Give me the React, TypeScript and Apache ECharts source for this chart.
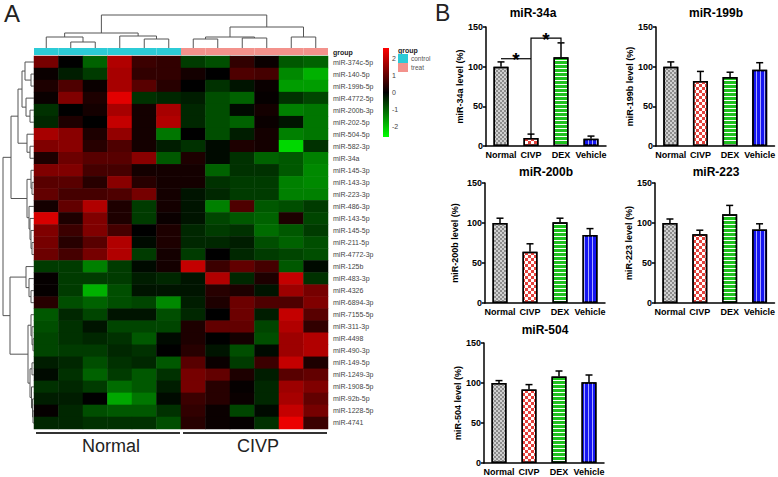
import React, { useEffect, useRef } from "react";
import * as echarts from "echarts";

// ---------------- DATA ----------------
const sampleNames = ["N1", "N2", "N3", "N4", "N5", "N6", "C1", "C2", "C3", "C4", "C5", "C6"];
const sampleGroups = ["control", "control", "control", "control", "control", "control", "treat", "treat", "treat", "treat", "treat", "treat"];
const groupNames = ["control", "treat"];
const groupLabels = ["Normal", "CIVP"];

const mirnaRows = [
  "miR-374c-5p", "miR-140-5p", "miR-199b-5p", "miR-4772-5p", "miR-200b-3p", "miR-202-5p",
  "miR-504-5p", "miR-582-3p", "miR-34a", "miR-145-3p", "miR-143-3p", "miR-223-3p",
  "miR-486-3p", "miR-143-5p", "miR-145-5p", "miR-211-5p", "miR-4772-3p", "miR-125b",
  "miR-483-3p", "miR-4326", "miR-6894-3p", "miR-7155-5p", "miR-311-3p", "miR-4498",
  "miR-490-3p", "miR-149-5p", "miR-1249-3p", "miR-1908-5p", "miR-92b-5p", "miR-1228-5p", "miR-4741",
];

const heatValues = [
  [1.2, 0, -1.0, 1.8, 0.6, 0.5, -0.6, -0.8, 0.5, 0.1, -0.9, -1.0],
  [0.1, -0.3, -0.6, 1.7, 0.5, 0.5, 0.2, 0.0, 0.8, 0.7, -1.4, -1.8],
  [0.3, 0.8, 0.1, 1.7, 0.9, 0.4, 0.0, -0.5, -0.2, 0.1, -1.6, -1.6],
  [0.1, 1.3, 0.3, 2.3, -0.5, -0.4, -0.3, -0.8, -1.0, 0.05, -0.5, -0.7],
  [-0.5, 0, 0.2, 1.7, 0.2, 1.7, -0.4, -0.8, -0.1, 0.2, -1.3, -1.2],
  [-0.4, 0.3, 0, 2.0, 0.2, 1.8, -0.4, -0.8, -1.0, 0.1, -0.2, -1.2],
  [1.7, 1.4, 0.3, 1.5, 0.2, -1.2, 0, -0.8, -0.3, 0.2, -1.3, -1.2],
  [1.3, 1.4, 0.4, 0.8, 0.2, -0.3, -0.5, -0.1, 0.3, 0.2, -2.2, -0.5],
  [0.3, 1.1, 0.9, 0.9, 1.4, -0.9, 0.3, -0.1, -0.5, -1.0, -0.9, -1.3],
  [1.3, 1.3, 0.7, 0.7, 0.2, 0.2, 0.2, -1.0, -0.5, -0.5, -0.9, -1.4],
  [0.9, 0.9, 0.4, 1.4, 0.4, 0.2, 0.2, -0.5, -0.6, -0.6, -1.3, -1.4],
  [1.0, 0.7, 0.7, 0.8, 1.2, 0.2, -0.2, -0.4, -0.6, -0.6, -1.3, -1.3],
  [0.2, 1.0, 1.8, 0.3, -0.6, 0.2, -0.2, -1.3, 0.8, -0.9, -0.8, -0.6],
  [2.2, 0.3, 1.3, 0.3, -0.6, 0.1, -0.2, -0.7, -0.9, -1.0, 0.3, -0.7],
  [1.3, 0.6, 1.3, 0.7, 0, 0.3, -0.4, -0.6, -0.5, -1.1, -0.9, -0.6],
  [1.2, 0.4, 0.9, 1.8, -0.1, 0.3, -0.4, -0.4, -0.3, -0.8, -1.0, -0.8],
  [1.1, 0.7, 1.2, 1.8, -0.6, 0.2, -0.6, 0, -0.4, -0.6, -0.7, -0.8],
  [-0.6, -0.6, -1.3, -0.6, -0.1, 0.2, 2.0, 0.6, 1.0, 0.7, -0.9, -0.1],
  [0.05, -0.6, -0.6, -0.6, -0.3, -0.4, -0.2, 1.8, -0.4, 0.3, 2.0, -0.5],
  [0.05, -0.6, -1.8, -0.8, -0.2, -0.2, -0.2, 0.4, 0.3, -0.2, 1.6, 1.2],
  [0.4, -0.8, -1.0, -0.8, -0.7, -1.4, -0.3, 0.3, 1.1, 0.8, 0.8, 1.3],
  [-0.9, -0.4, -0.7, -0.2, -0.2, -0.8, -0.4, 0, 1.1, -0.3, 2.0, 0.9],
  [-0.8, -0.5, -0.2, -0.7, -0.7, -0.7, 0.3, 1.0, 1.0, -0.7, 1.8, 0.5],
  [-0.7, -0.5, -0.4, -0.5, -0.9, -0.1, 0.3, 0, 0.2, -0.8, 1.6, 1.8],
  [-0.7, -0.6, -0.6, -0.4, -0.5, 0, 0.4, -0.2, -0.8, -0.1, 1.6, 1.8],
  [-0.3, -0.4, -0.8, -0.5, -0.4, -0.9, 0.9, 0.1, -0.6, 0.6, 2.0, 0.3],
  [-0.1, -0.5, -1.0, -0.6, -0.9, -0.5, 1.2, 1.0, 0.3, -0.3, 0.9, 1.0],
  [-0.5, -0.4, -0.6, -1.1, -0.9, -0.3, 1.2, 0.4, 0.05, -0.4, 1.6, 1.3],
  [-0.3, -0.3, 0, -1.7, -1.2, -0.1, 0.6, 0.4, 0.1, -0.4, 1.7, 1.0],
  [0.05, -0.4, -0.8, -0.9, -0.9, -0.5, 0.5, 0.1, -0.7, -0.1, 2.0, 1.2],
  [-0.4, -0.4, -0.5, -0.5, -0.5, -0.8, 0.4, 0.1, 0.05, -0.5, 2.4, 0.6],
];

const colorTicks = [2, 1, 0, -1, -2];
const colorRange = [-2.6, 2.6];

// dendrograms: [left, right, height]; leaves are indices
type Tree = number | [Tree, Tree, number];
const colTree: Tree = [
  [[0, [1, 2, 6], 11], [3, [4, 5, 9], 12], 15],
  [[[6, 7, 9], [8, 9, 10], 11], [10, 11, 11], 21],
  33,
];
const rowTree: Tree = [
  [
    [[[0, [1, 2, 3], 9], [3, [4, 5, 4], 8], 12], [6, [7, 8, 4], 7], 16],
    [[9, [10, 11, 2], 3], [12, [13, [14, [15, 16, 2], 3], 4], 5], 7],
    23,
  ],
  [
    [17, [18, [19, 20, 3], 5], 8],
    [[21, [22, [23, 24, 1], 2], 3], [[25, 26, 2], [27, [28, [29, 30, 1], 1.5], 2.5], 4], 6],
    24,
  ],
  31,
];

const barCategories = ["Normal", "CIVP", "DEX", "Vehicle"];
const mir34aMean = [100, 10, 112, 9];
const mir34aErr = [6, 5, 18, 3.5];
const mir199bMean = [100, 82, 87, 96];
const mir199bErr = [6, 12, 6, 9];
const mir200bMean = [100, 64, 101, 85];
const mir200bErr = [6, 10, 5, 8];
const mir223Mean = [100, 86, 111, 92];
const mir223Err = [5, 5, 11, 7];
const mir504Mean = [100, 92, 108, 101];
const mir504Err = [3, 6, 7, 9];
// [fromCat, toCat, topLevel, leftEndLevel, rightEndLevel]
const sigBrackets = [
  [0, 1, 110, 110, 110],
  [1, 2, 136, 14, 131],
];

// ---------------- STYLE / LAYOUT ----------------
const FONT = "Arial, 'Liberation Sans', Helvetica, sans-serif";
const HM = { left: 34, top: 56, width: 294, height: 373 };
const groupColor: Record<string, string> = { control: "#2ccbd6", treat: "#f3928c" };

const barItemStyles = [
  {
    color: "#d0d0d0",
    decal: { symbol: "rect", symbolSize: 1, color: "#8c8c8c", dashArrayX: [[2, 2], [0, 2, 2, 0]], dashArrayY: [2, 0] },
  },
  {
    color: "#ffffff",
    decal: { symbol: "rect", symbolSize: 1, color: "#e5423c", dashArrayX: [[3, 3], [0, 3, 3, 0]], dashArrayY: [3, 0] },
  },
  {
    color: "#1fc21f",
    decal: { symbol: "rect", symbolSize: 1, color: "#ffffff", dashArrayX: [1, 0], dashArrayY: [1, 3] },
  },
  {
    color: "#1616f0",
    decal: { symbol: "rect", symbolSize: 1, color: "#a8a8ff", dashArrayX: [1, 3], dashArrayY: [1, 0] },
  },
];

const panels = [
  { title: "miR-34a", mean: mir34aMean, err: mir34aErr, left: 486, top: 27, height: 119, tx: 533, ty: 13, gap: 19 },
  { title: "miR-199b", mean: mir199bMean, err: mir199bErr, left: 656, top: 27, height: 119, tx: 716, ty: 13, gap: 21 },
  { title: "miR-200b", mean: mir200bMean, err: mir200bErr, left: 485, top: 183, height: 120, tx: 546, ty: 172, gap: 26 },
  { title: "miR-223", mean: mir223Mean, err: mir223Err, left: 655, top: 183, height: 120, tx: 716, ty: 172, gap: 20 },
  { title: "miR-504", mean: mir504Mean, err: mir504Err, left: 484, top: 343, height: 120, tx: 545, ty: 330, gap: 22 },
];

function layoutTree(node: Tree, segs: number[][][]): { pos: number; h: number } {
  if (typeof node === "number") return { pos: node, h: 0 };
  const a = layoutTree(node[0], segs);
  const b = layoutTree(node[1], segs);
  const h = node[2];
  segs.push([[a.pos, a.h], [a.pos, h], [b.pos, h], [b.pos, b.h]]);
  return { pos: (a.pos + b.pos) / 2, h };
}

function buildOption() {
  const colSegs: number[][][] = [];
  layoutTree(colTree, colSegs);
  const rowSegs: number[][][] = [];
  layoutTree(rowTree, rowSegs);

  const heatData: number[][] = [];
  heatValues.forEach((row, r) => row.forEach((v, c) => heatData.push([c, r, v])));

  const grid: any[] = [
    { left: HM.left, top: HM.top, width: HM.width, height: HM.height },
    { left: HM.left, top: 48, width: HM.width, height: 7 },
    { left: HM.left, top: 14, width: HM.width, height: 34 },
    { left: 2, top: HM.top, width: 32, height: HM.height },
    { left: 383, top: 48, width: 6, height: 89 },
  ];
  const xAxis: any[] = [
    { gridIndex: 0, type: "category", data: sampleNames, show: false },
    { gridIndex: 1, type: "category", data: sampleNames, show: false },
    { gridIndex: 2, type: "value", min: -0.5, max: 11.5, show: false },
    { gridIndex: 3, type: "value", min: 0, max: 32, inverse: true, show: false },
    { gridIndex: 4, type: "value", min: 0, max: 1, show: false },
  ];
  const yAxis: any[] = [
    {
      gridIndex: 0, type: "category", data: mirnaRows, inverse: true, position: "right",
      axisLine: { show: false }, axisTick: { show: false },
      axisLabel: { fontSize: 7, color: "#444", margin: 5, interval: 0, fontFamily: FONT },
    },
    { gridIndex: 1, type: "value", min: 0, max: 1, show: false },
    { gridIndex: 2, type: "value", min: 0, max: 34, show: false },
    { gridIndex: 3, type: "value", min: -0.5, max: 30.5, inverse: true, show: false },
    {
      gridIndex: 4, type: "value", min: colorRange[0], max: colorRange[1], position: "right",
      axisLine: { show: false }, axisTick: { show: false }, splitLine: { show: false },
      axisLabel: { customValues: colorTicks, fontSize: 7, color: "#444", margin: 3, fontFamily: FONT },
    },
  ];

  const series: any[] = [
    {
      type: "heatmap", xAxisIndex: 0, yAxisIndex: 0, data: heatData,
      itemStyle: { borderWidth: 0 }, emphasis: { disabled: true }, silent: true,
    },
    {
      type: "bar", xAxisIndex: 1, yAxisIndex: 1, barCategoryGap: "0%", silent: true,
      data: sampleGroups.map((g) => ({ value: 1, itemStyle: { color: groupColor[g] } })),
    },
    {
      type: "lines", coordinateSystem: "cartesian2d", xAxisIndex: 2, yAxisIndex: 2, polyline: true, silent: true,
      lineStyle: { color: "#555", width: 1, opacity: 1 },
      data: colSegs.map((c) => ({ coords: c })),
    },
    {
      type: "lines", coordinateSystem: "cartesian2d", xAxisIndex: 3, yAxisIndex: 3, polyline: true, silent: true,
      lineStyle: { color: "#555", width: 1, opacity: 1 },
      data: rowSegs.map((c) => ({ coords: c.map((p) => [p[1], p[0]]) })),
    },
  ];

  const graphic: any[] = [];

  panels.forEach((p, i) => {
    const gi = 5 + i;
    grid.push({ left: p.left, top: p.top, width: 120, height: p.height });
    xAxis.push({
      gridIndex: gi, type: "category", data: barCategories,
      axisLine: { lineStyle: { color: "#000", width: 1.5 } },
      axisTick: { alignWithLabel: true, length: 3, lineStyle: { color: "#000", width: 1.5 } },
      axisLabel: { fontSize: 9, fontWeight: "bold", color: "#000", margin: 4, interval: 0, fontFamily: FONT },
    });
    yAxis.push({
      gridIndex: gi, type: "value", min: 0, max: 150, interval: 50,
      name: `${p.title} level (%)`, nameLocation: "middle", nameGap: p.gap,
      nameTextStyle: { fontSize: 9, fontWeight: "bold", color: "#000", fontFamily: FONT },
      axisLine: { show: true, lineStyle: { color: "#000", width: 1.5 } },
      axisTick: { show: true, length: 3, lineStyle: { color: "#000", width: 1.5 } },
      axisLabel: { fontSize: 9, fontWeight: "bold", color: "#000", margin: 3, fontFamily: FONT },
      splitLine: { show: false },
    });
    series.push({
      type: "bar", xAxisIndex: gi, yAxisIndex: gi, barWidth: 15, silent: true,
      data: p.mean.map((v, k) => ({
        value: v,
        itemStyle: { ...barItemStyles[k], borderColor: "#000", borderWidth: 1.5 },
      })),
    });
    series.push({
      type: "custom", xAxisIndex: gi, yAxisIndex: gi, silent: true, z: 5,
      data: p.mean.map((m, k) => [k, m, p.err[k]]),
      renderItem: (_params: any, api: any) => {
        const x = api.value(0), m = api.value(1), e = api.value(2);
        const p0 = api.coord([x, m]);
        const p1 = api.coord([x, m + e]);
        const st = { stroke: "#000", lineWidth: 1.5 };
        return {
          type: "group",
          children: [
            { type: "line", shape: { x1: p0[0], y1: p0[1], x2: p1[0], y2: p1[1] }, style: st },
            { type: "line", shape: { x1: p1[0] - 3.5, y1: p1[1], x2: p1[0] + 3.5, y2: p1[1] }, style: st },
          ],
        };
      },
    });
    graphic.push({
      type: "text", x: p.tx, y: p.ty,
      style: {
        text: p.title, fontSize: 12, fontWeight: "bold", fill: "#000", fontFamily: FONT,
        textAlign: "center", align: "center", textVerticalAlign: "middle", verticalAlign: "middle",
      },
    });
  });

  series.push({
    type: "custom", xAxisIndex: 5, yAxisIndex: 5, silent: true, z: 6,
    data: sigBrackets,
    renderItem: (_params: any, api: any) => {
      const x1 = api.value(0), x2 = api.value(1), yt = api.value(2), y1 = api.value(3), y2 = api.value(4);
      const a = api.coord([x1, y1]);
      const b = api.coord([x1, yt]);
      const c = api.coord([x2, yt]);
      const d = api.coord([x2, y2]);
      return {
        type: "group",
        children: [
          { type: "polyline", shape: { points: [a, b, c, d] }, style: { stroke: "#000", lineWidth: 1.2, fill: "none" } },
          {
            type: "text", x: (b[0] + c[0]) / 2, y: b[1] + 1,
            style: {
              text: "*", fontSize: 19, fontWeight: "bold", fill: "#000", fontFamily: FONT,
              textAlign: "center", align: "center", textVerticalAlign: "middle", verticalAlign: "middle",
            },
          },
        ],
      };
    },
  });

  graphic.push({
    type: "rect", shape: { x: 383, y: 48, width: 6, height: 89 },
    style: {
      fill: new echarts.graphic.LinearGradient(0, 0, 0, 1, [
        { offset: 0, color: "#ff0000" },
        { offset: 0.5, color: "#000000" },
        { offset: 1, color: "#00ff00" },
      ]),
    },
  });
  const txt = (text: string, x: number, y: number, size: number, extra: any = {}) => ({
    type: "text", x, y,
    style: {
      text, fontSize: size, fill: "#333", fontFamily: FONT,
      textAlign: "left", align: "left", textVerticalAlign: "middle", verticalAlign: "middle", ...extra,
    },
  });
  graphic.push(txt("group", 333, 52, 7, { fontWeight: "bold", fill: "#222" }));
  graphic.push(txt("group", 398, 50, 7, { fontWeight: "bold", fill: "#222" }));
  groupNames.forEach((g, i) => {
    graphic.push({ type: "rect", shape: { x: 398, y: 54 + i * 9, width: 10, height: 9 }, style: { fill: groupColor[g] } });
    graphic.push(txt(g, 411, 58.5 + i * 9, 6.5, { fill: "#555" }));
  });
  graphic.push(txt("A", 4, 13, 24, { fill: "#222" }));
  graphic.push(txt("B", 435, 13, 23, { fill: "#222" }));
  const half = HM.width / 2;
  groupLabels.forEach((g, i) => {
    const x0 = HM.left + i * half + 2;
    const x1 = HM.left + (i + 1) * half - 1;
    graphic.push({ type: "line", shape: { x1: x0, y1: 433, x2: x1, y2: 433 }, style: { stroke: "#333", lineWidth: 2.2 } });
    graphic.push(txt(g, (x0 + x1) / 2 + 3, 446, 18, { textAlign: "center", align: "center", fill: "#222" }));
  });

  return {
    animation: false,
    textStyle: { fontFamily: FONT },
    visualMap: {
      type: "continuous", min: colorRange[0], max: colorRange[1], seriesIndex: 0, show: false,
      inRange: { color: ["#00ff00", "#000000", "#ff0000"] },
    },
    grid, xAxis, yAxis, series, graphic,
  };
}

export default function App() {
  const ref = useRef<HTMLDivElement>(null);
  useEffect(() => {
    document.body.style.margin = "0";
    const chart = echarts.init(ref.current!, null, { renderer: "svg" });
    chart.setOption(buildOption() as any);
    return () => chart.dispose();
  }, []);
  return <div ref={ref} style={{ width: 778, height: 477, background: "#fff" }} />;
}
